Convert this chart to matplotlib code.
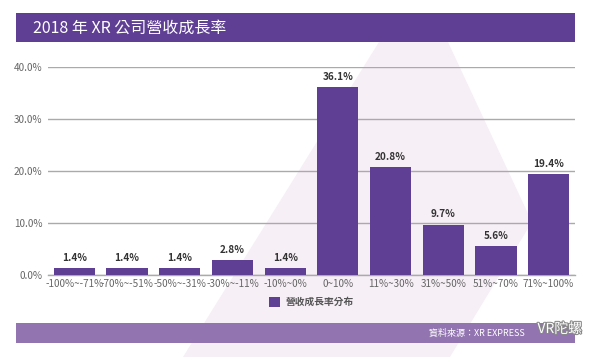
import matplotlib
matplotlib.use("Agg")
import matplotlib.pyplot as plt
import matplotlib.patheffects as pe
from matplotlib.patches import Polygon, Rectangle

plt.rcParams['font.family'] = ['Noto Sans CJK TC', 'DejaVu Sans']

# Données du graphique
categories = ["-100%~-71%", "-70%~-51%", "-50%~-31%", "-30%~-11%", "-10%~0%",
              "0~10%", "11%~30%", "31%~50%", "51%~70%", "71%~100%"]
values = [1.4, 1.4, 1.4, 2.8, 1.4, 36.1, 20.8, 9.7, 5.6, 19.4]
yticks = [0, 10, 20, 30, 40]
title = "2018 年 XR 公司營收成長率"
series_name = "營收成長率分布"
source = "資料來源：XR EXPRESS"

W, H = 600, 357
PURPLE = "#5f3f94"
LIGHT_PURPLE = "#9274b0"
PALE = "#f6eff6"


def px(x, y):
    # pixels (origine en haut à gauche) -> fraction de figure
    return x / W, 1 - y / H


fig = plt.figure(figsize=(6, 3.57), dpi=100)

# filigrane pâle en arrière-plan (sous les axes), coupé sous le bandeau du titre
shape = [px(379, 42), px(448, 42), px(532, 222), px(450, 357), px(183, 357)]
fig.patches.append(Polygon(shape, closed=True, transform=fig.transFigure,
                           facecolor=PALE, edgecolor="none", zorder=-10))

# bandeau de titre
x0, y0 = px(16, 42)
fig.patches.append(Rectangle((x0, y0), (575 - 16) / W, 29 / H, transform=fig.transFigure,
                             facecolor=PURPLE, edgecolor="none", zorder=1))
fig.text(*px(33, 28), title, color="white", fontsize=11.5, va="center", ha="left", zorder=2)

# bandeau du bas
x0, y0 = px(16, 343)
fig.patches.append(Rectangle((x0, y0), (575 - 16) / W, 20 / H, transform=fig.transFigure,
                             facecolor=LIGHT_PURPLE, edgecolor="none", zorder=1))
fig.text(*px(525, 333), source, color="white", fontsize=6.5, va="center", ha="right", zorder=2)
fig.text(*px(582, 329), "VR陀螺", color="white", fontsize=10, va="center", ha="right", zorder=3,
         path_effects=[pe.withStroke(linewidth=1.5, foreground="#888888")])

# zone du graphique
left, bottom = px(48, 275)
right, top = px(575, 67)
ax = fig.add_axes([left, bottom, right - left, top - bottom])
ax.patch.set_alpha(0)

xs = range(len(categories))
bars = ax.bar(xs, values, width=0.78, color=PURPLE, zorder=3, label=series_name)
for x, v in zip(xs, values):
    ax.text(x, v + 1.0, f"{v:.1f}%", ha="center", va="bottom", fontsize=7.2,
            fontweight="bold", color="#333333", zorder=4)

ax.set_xlim(-0.5, len(categories) - 0.5)
ax.set_ylim(0, 40)
ax.set_yticks(yticks)
ax.set_yticklabels([f"{t:.1f}%" for t in yticks])
ax.set_xticks(list(xs))
ax.set_xticklabels(categories)
ax.tick_params(axis="both", length=0, labelsize=7.2, labelcolor="#666666")
ax.tick_params(axis="y", pad=4)
ax.tick_params(axis="x", pad=3)

ax.grid(axis="y", color="#aaaaaa", linewidth=1, zorder=1)
for side in ["top", "right", "left"]:
    ax.spines[side].set_visible(False)
ax.spines["bottom"].set_color("#aaaaaa")
ax.spines["bottom"].set_linewidth(1)

leg = ax.legend(loc="upper center", bbox_to_anchor=(0.5, -0.065), frameon=False,
                fontsize=7, handlelength=1.1, handleheight=1.1, handletextpad=0.6)
for t in leg.get_texts():
    t.set_color("#555555")
    t.set_fontweight("bold")

fig.savefig("out.png", dpi=100, facecolor="white")
